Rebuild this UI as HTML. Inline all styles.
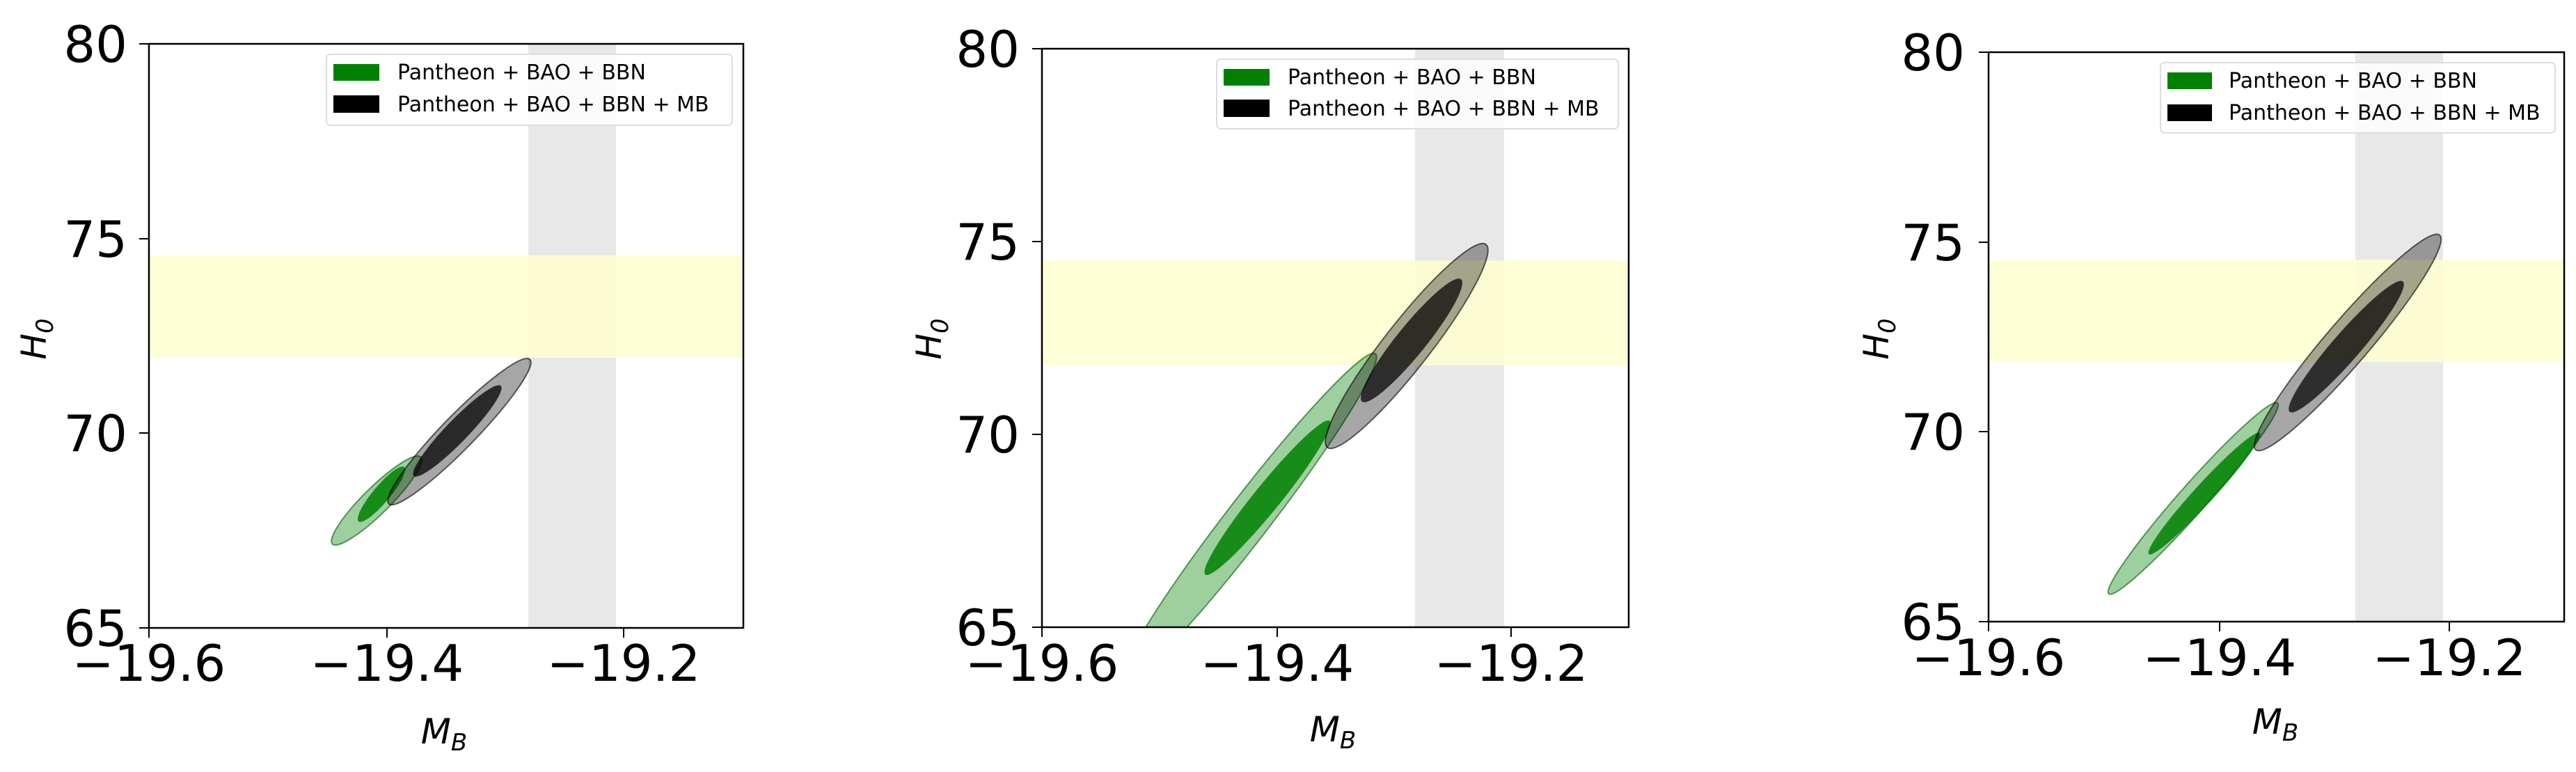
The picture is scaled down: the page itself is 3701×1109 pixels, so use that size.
<!DOCTYPE html>
<html><head><meta charset="utf-8"><style>
html,body{margin:0;padding:0;background:#fff;}
svg{display:block;font-family:"DejaVu Sans","Liberation Sans",sans-serif;}
.tk{font-size:72px;fill:#000;}
.lg{font-size:30px;fill:#000;}
.al{font-size:50px;font-style:italic;fill:#000;}
.sub{font-size:34px;font-style:italic;}
</style></head><body>
<svg width="3701" height="1109" viewBox="0 0 3701 1109" xmlns="http://www.w3.org/2000/svg">
<defs>
<clipPath id="c1"><rect x="214" y="63" width="854" height="839"/></clipPath>
<clipPath id="c2"><rect x="1497" y="70" width="843" height="831"/></clipPath>
<clipPath id="c3"><rect x="2857" y="75" width="827" height="818"/></clipPath>
</defs>

<!-- Panel 1 -->
<g clip-path="url(#c1)">
<rect x="759" y="63" width="126" height="839" fill="#e8e8e8"/>
<rect x="214" y="367" width="854" height="147" fill="#ffffd0" opacity="0.85"/>
<g transform="translate(541,719) rotate(-44.6)"><ellipse rx="89" ry="19" fill="rgba(0,128,0,0.38)" stroke="rgba(0,90,0,0.6)" stroke-width="2"/></g>
<g transform="translate(548,710) rotate(-50)"><ellipse rx="51" ry="12" fill="rgba(0,128,0,0.85)"/></g>
<g transform="translate(660,620) rotate(-45.7)"><ellipse rx="145" ry="24" fill="rgba(0,0,0,0.35)" stroke="rgba(0,0,0,0.6)" stroke-width="2"/></g>
<g transform="translate(657,619) rotate(-46)"><ellipse rx="90" ry="16" fill="rgba(0,0,0,0.75)"/></g>
</g>
<rect x="214" y="63" width="854" height="839" fill="none" stroke="#000" stroke-width="2.5"/>
<g stroke="#000" stroke-width="2">
<line x1="200" y1="63" x2="214" y2="63"/><line x1="200" y1="343" x2="214" y2="343"/><line x1="200" y1="622" x2="214" y2="622"/><line x1="200" y1="902" x2="214" y2="902"/>
<line x1="214" y1="902" x2="214" y2="916"/><line x1="556" y1="902" x2="556" y2="916"/><line x1="896" y1="902" x2="896" y2="916"/>
</g>
<g class="tk" text-anchor="end">
<text x="183" y="89">80</text><text x="183" y="369">75</text><text x="183" y="648">70</text><text x="183" y="928">65</text>
</g>
<g class="tk" text-anchor="middle">
<text x="214" y="978">−19.6</text><text x="556" y="978">−19.4</text><text x="896" y="978">−19.2</text>
</g>
<text class="al" transform="translate(66,487) rotate(-90)" text-anchor="middle">H<tspan class="sub" dy="10">0</tspan></text>
<text class="al" x="638" y="1068" text-anchor="middle">M<tspan class="sub" dy="10">B</tspan></text>
<rect x="469" y="78" width="583" height="102" rx="6" fill="rgba(255,255,255,0.8)" stroke="#ddd" stroke-width="2"/>
<rect x="479" y="92" width="66" height="24" fill="#008000"/>
<rect x="479" y="137" width="66" height="25" fill="#000"/>
<text class="lg" x="571" y="114">Pantheon + BAO + BBN</text>
<text class="lg" x="571" y="160">Pantheon + BAO + BBN + MB</text>

<!-- Panel 2 -->
<g clip-path="url(#c2)">
<rect x="2033" y="70" width="128" height="831" fill="#e8e8e8"/>
<rect x="1497" y="374" width="843" height="151" fill="#ffffd0" opacity="0.85"/>
<g transform="translate(1793,746) rotate(-52.4)"><ellipse rx="300" ry="31" fill="rgba(0,128,0,0.38)" stroke="rgba(0,90,0,0.6)" stroke-width="2"/></g>
<g transform="translate(1821,715) rotate(-51)"><ellipse rx="142" ry="19" fill="rgba(0,128,0,0.85)"/></g>
<g transform="translate(2021,497) rotate(-52)"><ellipse rx="185" ry="33" fill="rgba(0,0,0,0.35)" stroke="rgba(0,0,0,0.6)" stroke-width="2"/></g>
<g transform="translate(2028,489) rotate(-51)"><ellipse rx="113" ry="21" fill="rgba(0,0,0,0.72)"/></g>
</g>
<rect x="1497" y="70" width="843" height="831" fill="none" stroke="#000" stroke-width="2.5"/>
<g stroke="#000" stroke-width="2">
<line x1="1483" y1="70" x2="1497" y2="70"/><line x1="1483" y1="347" x2="1497" y2="347"/><line x1="1483" y1="624" x2="1497" y2="624"/><line x1="1483" y1="901" x2="1497" y2="901"/>
<line x1="1497" y1="901" x2="1497" y2="915"/><line x1="1835" y1="901" x2="1835" y2="915"/><line x1="2171" y1="901" x2="2171" y2="915"/>
</g>
<g class="tk" text-anchor="end">
<text x="1465" y="96">80</text><text x="1465" y="373">75</text><text x="1465" y="650">70</text><text x="1465" y="927">65</text>
</g>
<g class="tk" text-anchor="middle">
<text x="1497" y="978">−19.6</text><text x="1835" y="978">−19.4</text><text x="2171" y="978">−19.2</text>
</g>
<text class="al" transform="translate(1352,487) rotate(-90)" text-anchor="middle">H<tspan class="sub" dy="10">0</tspan></text>
<text class="al" x="1915" y="1065" text-anchor="middle">M<tspan class="sub" dy="10">B</tspan></text>
<rect x="1748" y="85" width="577" height="100" rx="6" fill="rgba(255,255,255,0.8)" stroke="#ddd" stroke-width="2"/>
<rect x="1758" y="99" width="66" height="24" fill="#008000"/>
<rect x="1758" y="143" width="66" height="25" fill="#000"/>
<text class="lg" x="1850" y="121">Pantheon + BAO + BBN</text>
<text class="lg" x="1850" y="166">Pantheon + BAO + BBN + MB</text>

<!-- Panel 3 -->
<g clip-path="url(#c3)">
<rect x="3384" y="75" width="126" height="818" fill="#e8e8e8"/>
<rect x="2857" y="373" width="827" height="147" fill="#ffffd0" opacity="0.85"/>
<g transform="translate(3151,716) rotate(-48.5)"><ellipse rx="183" ry="20" fill="rgba(0,128,0,0.38)" stroke="rgba(0,90,0,0.6)" stroke-width="2"/></g>
<g transform="translate(3167,709) rotate(-47.5)"><ellipse rx="118" ry="14" fill="rgba(0,128,0,0.85)"/></g>
<g transform="translate(3373,492) rotate(-49.4)"><ellipse rx="203" ry="31" fill="rgba(0,0,0,0.35)" stroke="rgba(0,0,0,0.6)" stroke-width="2"/></g>
<g transform="translate(3371,498) rotate(-49)"><ellipse rx="124" ry="20" fill="rgba(0,0,0,0.72)"/></g>
</g>
<rect x="2857" y="75" width="827" height="818" fill="none" stroke="#000" stroke-width="2.5"/>
<g stroke="#000" stroke-width="2">
<line x1="2843" y1="75" x2="2857" y2="75"/><line x1="2843" y1="348" x2="2857" y2="348"/><line x1="2843" y1="620" x2="2857" y2="620"/><line x1="2843" y1="893" x2="2857" y2="893"/>
<line x1="2857" y1="893" x2="2857" y2="907"/><line x1="3189" y1="893" x2="3189" y2="907"/><line x1="3519" y1="893" x2="3519" y2="907"/>
</g>
<g class="tk" text-anchor="end">
<text x="2823" y="101">80</text><text x="2823" y="374">75</text><text x="2823" y="646">70</text><text x="2823" y="919">65</text>
</g>
<g class="tk" text-anchor="middle">
<text x="2857" y="970">−19.6</text><text x="3189" y="970">−19.4</text><text x="3519" y="970">−19.2</text>
</g>
<text class="al" transform="translate(2713,487) rotate(-90)" text-anchor="middle">H<tspan class="sub" dy="10">0</tspan></text>
<text class="al" x="3269" y="1054" text-anchor="middle">M<tspan class="sub" dy="10">B</tspan></text>
<rect x="3104" y="90" width="567" height="101" rx="6" fill="rgba(255,255,255,0.8)" stroke="#ddd" stroke-width="2"/>
<rect x="3114" y="104" width="64" height="24" fill="#008000"/>
<rect x="3114" y="150" width="64" height="24" fill="#000"/>
<text class="lg" x="3202" y="126">Pantheon + BAO + BBN</text>
<text class="lg" x="3202" y="172">Pantheon + BAO + BBN + MB</text>
</svg>
</body></html>
